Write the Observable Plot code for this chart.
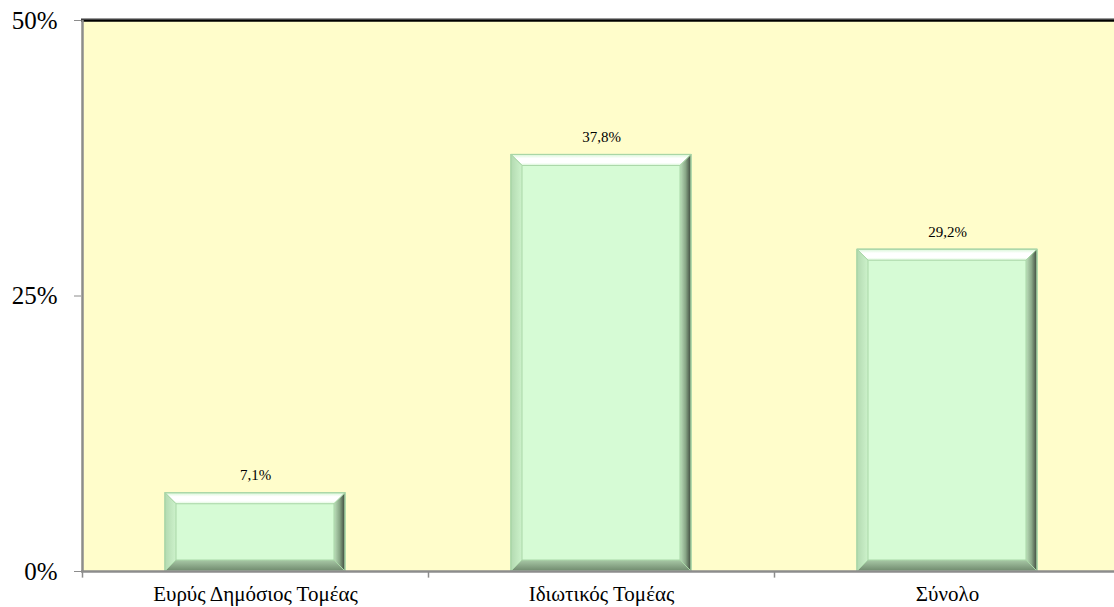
<!DOCTYPE html>
<html>
<head>
<meta charset="utf-8">
<script src="https://cdn.jsdelivr.net/npm/d3@7"></script>
<script src="https://cdn.jsdelivr.net/npm/@observablehq/plot@0.6"></script>
<style>
  html, body { margin: 0; padding: 0; background: #ffffff; }
  #chart svg { display: block; overflow: hidden; }
  #chart svg, #chart svg text, #chart svg g { font-family: "Liberation Serif", "Times New Roman", serif !important; }
</style>
</head>
<body>
<div id="chart"></div>
<script>
const categories = ["Ευρύς Δημόσιος Τομέας", "Ιδιωτικός Τομέας", "Σύνολο"];
const values = [7.1, 37.8, 29.2];
const valueLabels = ["7,1%", "37,8%", "29,2%"];
const yTicks = [0, 25, 50];
const yTickLabels = ["0%", "25%", "50%"];

const data = categories.map((c, i) => ({category: c, value: values[i], label: valueLabels[i]}));

const plot = Plot.plot({
  width: 1114,
  height: 607,
  marginLeft: 81,
  marginRight: 0,
  marginTop: 20,
  marginBottom: 36,
  style: {background: "#ffffff", color: "black"},
  x: {type: "band", domain: categories, range: [82, 1120], padding: 0},
  y: {domain: [0, 50]},
  marks: [
    Plot.frame({fill: "#fffdcb", stroke: "none"}),
    Plot.barY(data, {x: "category", y: "value", fill: "#d6fbd5", stroke: "#a9d6a7", strokeWidth: 1, insetLeft: 83, insetRight: 83, className: "bars"}),
    Plot.text(data, {x: "category", y: "value", text: "label", dy: -18, fontSize: 15, fill: "black"}),
    Plot.ruleY([50], {stroke: "#9a9a9a", strokeWidth: 1, dy: -2}),
    Plot.ruleY([50], {stroke: "black", strokeWidth: 2.5}),
    Plot.ruleY([0], {stroke: "#8c8c8c", strokeWidth: 2.5}),
    Plot.ruleX(categories, {x: d => d, dx: -173, y1: 0, y2: 50, stroke: "#8c8c8c", strokeWidth: 2.5, filter: (d, i) => i === 0}),
    Plot.ruleX(categories, {x: d => d, dx: -173, y1: 0, y2: -0.6, stroke: "#8c8c8c", strokeWidth: 1.5}),
    Plot.axisY({ticks: yTicks, tickFormat: d => yTickLabels[yTicks.indexOf(d)], tickSize: 7, tickPadding: 17, stroke: "#8c8c8c", fill: "black", fontSize: 25, label: null}),
    Plot.axisX({tickSize: 0, tickPadding: 15, fontSize: 21, fill: "black", label: null})
  ]
});

// bevel decoration drawn over the bars Plot produced
const svg = d3.select(plot);
const defs = svg.insert("defs", ":first-child");
function grad(id, x2, y2, stops) {
  const g = defs.append("linearGradient").attr("id", id).attr("x1", 0).attr("y1", 0).attr("x2", x2).attr("y2", y2);
  stops.forEach(([o, c]) => g.append("stop").attr("offset", o).attr("stop-color", c));
}
grad("bvTop", 0, 1, [[0, "#d8f6d6"], [0.35, "#ffffff"], [0.75, "#ffffff"], [1, "#ddf9db"]]);
grad("bvRight", 1, 0, [[0, "#bde0bb"], [0.5, "#8aa888"], [1, "#3c463b"]]);
grad("bvBottom", 0, 1, [[0, "#a8c8a6"], [1, "#6f896d"]]);
grad("bvLeft", 1, 0, [[0, "#b3dab1"], [1, "#cdf2cb"]]);

const b = 11;
svg.selectAll("g.bars rect").each(function() {
  const r = d3.select(this);
  const x = +r.attr("x"), y = +r.attr("y"), w = +r.attr("width"), h = +r.attr("height");
  const bb = Math.min(b, h / 2, w / 2);
  const g = d3.select(this.parentNode).append("g");
  const poly = (pts, fill) => g.append("polygon").attr("points", pts.map(p => p.join(",")).join(" ")).attr("fill", fill);
  poly([[x, y], [x + w, y], [x + w - bb, y + bb], [x + bb, y + bb]], "url(#bvTop)");
  poly([[x + w, y], [x + w, y + h], [x + w - bb, y + h - bb], [x + w - bb, y + bb]], "url(#bvRight)");
  poly([[x, y + h], [x + w, y + h], [x + w - bb, y + h - bb], [x + bb, y + h - bb]], "url(#bvBottom)");
  poly([[x, y], [x + bb, y + bb], [x + bb, y + h - bb], [x, y + h]], "url(#bvLeft)");
  g.append("rect").attr("x", x).attr("y", y).attr("width", w).attr("height", h).attr("fill", "none").attr("stroke", "#a9d6a7").attr("stroke-width", 1);
});

document.getElementById("chart").appendChild(plot);
</script>
</body>
</html>
